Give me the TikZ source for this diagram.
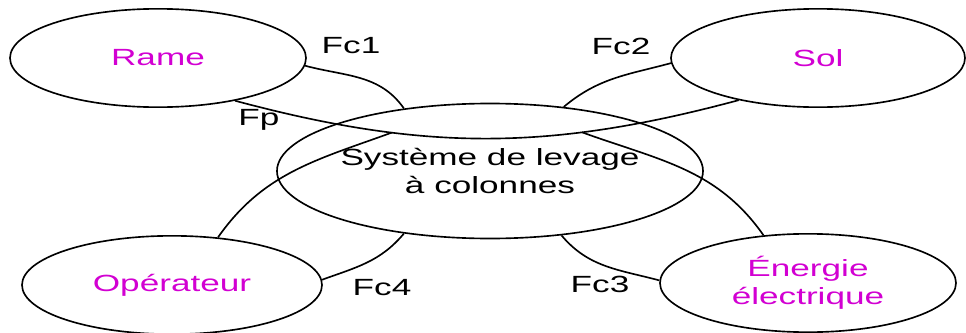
\documentclass[tikz,border=0pt]{standalone}
\usepackage{fontspec}
\setmainfont[FakeStretch=1.5]{Liberation Sans}
\usepackage{xcolor}
\usetikzlibrary{shapes.geometric}
\definecolor{rose}{RGB}{210,0,210}

\begin{document}
\begin{tikzpicture}[x=0.03cm, y=-0.03cm, line width=1.4pt,
    font=\fontsize{20pt}{24pt}\selectfont,
    elem/.style={ellipse, draw, inner sep=0pt, minimum width=#1,
      minimum height=2.95cm, text=rose, align=center},
    syst/.style={ellipse, draw, inner sep=0pt, minimum width=12.78cm,
      minimum height=4.05cm, align=center}]
                \useasboundingbox (0,0) rectangle (966,333);

                % milieu exterieur
                \node[elem=8.88cm] (rame) at (158,58) {Rame};
                \node[elem=8.82cm] (sol) at (818,58) {Sol};
                \node[elem=9cm] (oper) at (172,285) {Opérateur};
                \node[elem=8.88cm] (ener) at (808,283) {Énergie\\électrique};

                % le systeme
                \node[syst] (sys) at (490,171) {Système de levage\\à colonnes};

                % fonction principale
                \draw (rame.-29) to[out=-15,in=195] coordinate[pos=0.3] (fpg)
                    coordinate[pos=0.7] (fpd) (sol.208);
                \draw (oper.46) to[out=55,in=200] (fpg);
                \draw (fpd) to[out=-20,in=125] (ener.133);
                \node (fp) at (259,120) {Fp};

                % fonctions contraintes
                \draw (rame.-3) to[out=-15,in=125] (sys.144);
                \node (fc1) at (351,46) {Fc1};
                \draw (sol.182) to[out=195,in=40] (sys.41);
                \node (fc2) at (621,46) {Fc2};
                \draw (sys.-42) to[out=-50,in=165] (ener.179);
                \node (fc3) at (600,284) {Fc3};
                \draw (oper.2) to[out=20,in=230] (sys.216);
                \node (fc4) at (382,288) {Fc4};

            \end{tikzpicture}
\end{document}
